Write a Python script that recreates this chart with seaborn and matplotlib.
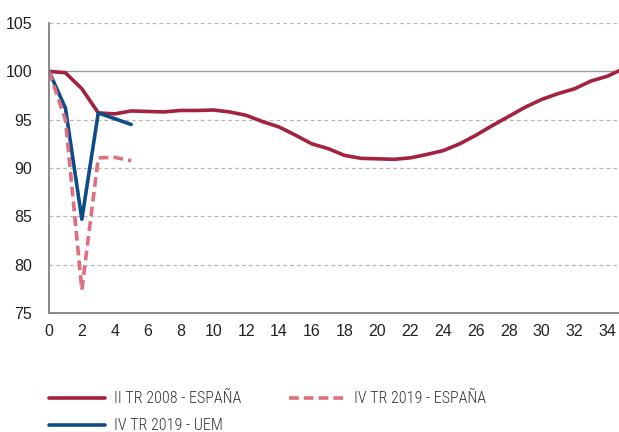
import numpy as np
import pandas as pd
import matplotlib
matplotlib.use("Agg")
import matplotlib.pyplot as plt
import seaborn as sns

# Trimestres desde el inicio de la crisis
quarters_2008 = list(range(0, 36))
spain_2008 = [100.0, 99.85, 98.2, 95.7, 95.6, 95.9, 95.85, 95.8, 95.95, 95.95,
              96.0, 95.8, 95.45, 94.8, 94.25, 93.4, 92.5, 92.0, 91.3, 91.0,
              90.95, 90.9, 91.05, 91.4, 91.8, 92.5, 93.4, 94.4, 95.35, 96.3,
              97.1, 97.7, 98.2, 99.0, 99.5, 100.3]

quarters_2019 = [0, 1, 2, 3, 4, 5]
spain_2019 = [100.0, 95.0, 77.4, 91.05, 91.1, 90.75]
uem_2019 = [100.0, 96.2, 84.7, 95.7, 95.1, 94.5]

label_2008 = "II TR 2008 - ESPAÑA"
label_es = "IV TR 2019 - ESPAÑA"
label_uem = "IV TR 2019 - UEM"

red = "#A3223F"
pink = "#DF6E7E"
blue = "#0D4C87"

sns.set_style("white")
plt.rcParams["font.family"] = ["Liberation Sans", "DejaVu Sans"]

fig = plt.figure(figsize=(6.19, 4.32), dpi=100)
ax = fig.add_axes([49 / 619, 1 - 313 / 432, 570 / 619, 290 / 432])

df08 = pd.DataFrame({"x": quarters_2008, "y": spain_2008})
df19 = pd.DataFrame({"x": quarters_2019, "es": spain_2019, "uem": uem_2019})

# gridlines
for v in [80, 85, 90, 95, 105]:
    ax.axhline(v, color="#b5b5b5", lw=0.9, ls=(0, (3, 2.5)), zorder=0)
ax.axhline(100, color="#9a9a9a", lw=1.0, zorder=0)

sns.lineplot(data=df08, x="x", y="y", ax=ax, color=red, lw=2.6, label=label_2008)
sns.lineplot(data=df19, x="x", y="uem", ax=ax, color=blue, lw=2.6, label=label_uem)
sns.lineplot(data=df19, x="x", y="es", ax=ax, color=pink, lw=2.6, label=label_es,
             linestyle=(0, (2.7, 1.4)))

ax.set_xlim(0, 34.7)
ax.set_ylim(75, 105)
ax.set_xticks(range(0, 35, 2))
ax.set_yticks(range(75, 106, 5))
ax.set_xlabel("")
ax.set_ylabel("")

for s in ["top", "right"]:
    ax.spines[s].set_visible(False)
for s in ["left", "bottom"]:
    ax.spines[s].set_color("#808080")
    ax.spines[s].set_linewidth(1.3)

ax.tick_params(axis="x", direction="in", length=4, width=0.8, color="#999999",
               labelsize=11.5, labelcolor="#222222", pad=8)
ax.tick_params(axis="y", length=0, labelsize=11.5, labelcolor="#222222", pad=12)

handles, labels = ax.get_legend_handles_labels()
hmap = dict(zip(labels, handles))
leg_font = {"family": ["Roboto Condensed", "Liberation Sans", "DejaVu Sans"],
            "size": 11.5, "weight": "light"}
leg_kw = dict(loc="upper left", frameon=False, handlelength=3.5, handletextpad=0.6,
              labelspacing=0.75, borderpad=0, borderaxespad=0, prop=leg_font)

leg1 = ax.legend([hmap[label_2008], hmap[label_uem]], [label_2008, label_uem],
                 bbox_to_anchor=(0.0, -0.27), **leg_kw)
ax.add_artist(leg1)
leg2 = ax.legend([hmap[label_es]], [label_es],
                 bbox_to_anchor=((289 - 49) / 570, -0.27), **leg_kw)
for leg in (leg1, leg2):
    for t in leg.get_texts():
        t.set_color("#333333")

fig.savefig("out.png", dpi=100)
